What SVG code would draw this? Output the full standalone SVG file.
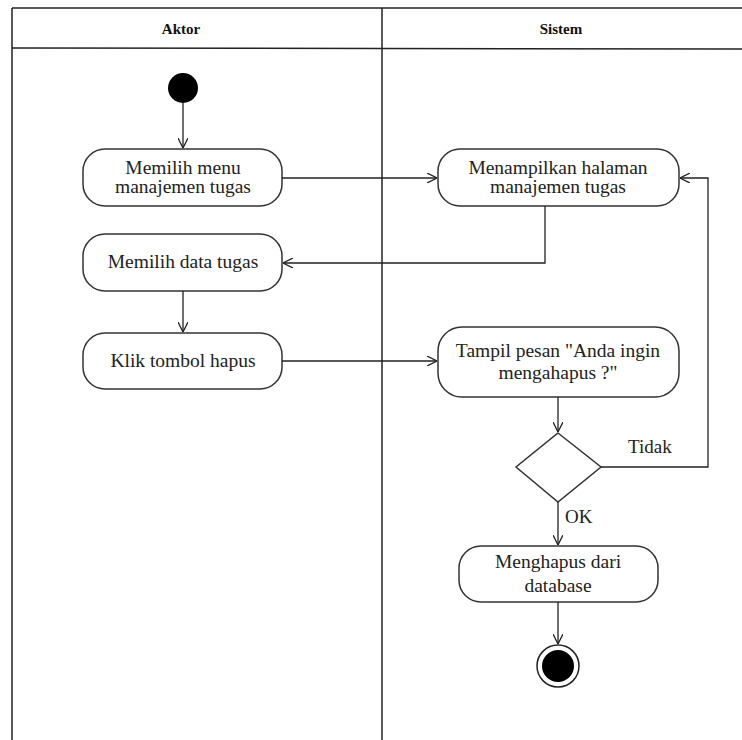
<svg xmlns="http://www.w3.org/2000/svg" width="742" height="740" viewBox="0 0 742 740">
<defs>
<marker id="arr" viewBox="0 0 10 10" refX="10" refY="5" markerWidth="10" markerHeight="10" markerUnits="userSpaceOnUse" orient="auto">
<path d="M0,0 L10,5 L0,10" fill="none" stroke="#222" stroke-width="1.3"/>
</marker>
<style>
.node{fill:#fff;stroke:#333;stroke-width:1.5}
text{font-family:'Liberation Serif','Times New Roman',serif}
.t{font-size:19.5px;fill:#222;text-anchor:middle}
.lbl{font-size:19px;fill:#222}
.hdr{font-size:15px;font-weight:bold;fill:#111;text-anchor:middle}
.ln{fill:none;stroke:#222;stroke-width:1.5}
.conn{fill:none;stroke:#222;stroke-width:1.3;marker-end:url(#arr)}
</style>
</defs>
<rect width="742" height="740" fill="#fff"/>
<g id="swimlanes">
<line class="ln" x1="12" y1="8" x2="742" y2="8" stroke-width="2"/>
<line class="ln" x1="12" y1="8" x2="12" y2="740" stroke-width="2"/>
<line class="ln" x1="12" y1="48" x2="742" y2="49" stroke="#555" stroke-width="2"/>
<line class="ln" x1="382" y1="8" x2="382" y2="740" stroke-width="2"/>
<text class="hdr" x="181" y="34">Aktor</text>
<text class="hdr" x="561" y="34">Sistem</text>
</g>
<g id="start"><circle cx="183" cy="88" r="15" fill="#000"/></g>
<g id="n1"><rect class="node" x="83" y="149" width="199" height="57" rx="22"/><text class="t" x="183" y="174">Memilih menu</text><text class="t" x="183" y="193">manajemen tugas</text></g>
<g id="n2"><rect class="node" x="83" y="234" width="199" height="57" rx="22"/><text class="t" x="183" y="268">Memilih data tugas</text></g>
<g id="n3"><rect class="node" x="83" y="333" width="199" height="56" rx="22"/><text class="t" x="183" y="367">Klik tombol hapus</text></g>
<g id="n4"><rect class="node" x="438" y="149" width="241" height="57" rx="22"/><text class="t" x="558" y="174">Menampilkan halaman</text><text class="t" x="558" y="193">manajemen tugas</text></g>
<g id="n5"><rect class="node" x="438" y="327" width="241" height="70" rx="24"/><text class="t" x="558" y="357">Tampil pesan "Anda ingin</text><text class="t" x="558" y="379">mengahapus ?"</text></g>
<g id="decision"><polygon class="node" points="558,433 601,467 558,502 516,467"/></g>
<g id="n6"><rect class="node" x="459" y="546" width="199" height="56" rx="22"/><text class="t" x="558" y="568">Menghapus dari</text><text class="t" x="558" y="592">database</text></g>
<g id="end"><circle cx="558" cy="666" r="21" fill="#fff" stroke="#222" stroke-width="1.5"/><circle cx="558" cy="666" r="16" fill="#000"/></g>
<g id="connectors">
<path class="conn" d="M183,103 V148"/>
<path class="conn" d="M282,178 H437"/>
<path class="conn" d="M545,206 V263 H283"/>
<path class="conn" d="M183,291 V332"/>
<path class="conn" d="M282,361 H437"/>
<path class="conn" d="M558,397 V432"/>
<path class="conn" d="M601,467 H708 V178 H680"/>
<path class="conn" d="M558,502 V545"/>
<path class="conn" d="M558,602 V644"/>
<text class="lbl" x="628" y="453">Tidak</text>
<text class="lbl" x="565" y="523">OK</text>
</g>
</svg>
